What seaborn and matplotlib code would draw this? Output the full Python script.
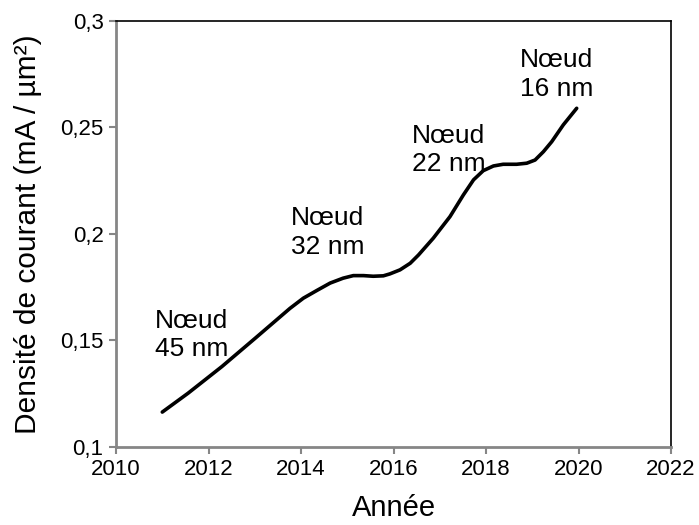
import numpy as np
import pandas as pd
import matplotlib
matplotlib.use("Agg")
import matplotlib.pyplot as plt
import seaborn as sns
from matplotlib.ticker import FuncFormatter

# points
annees = [2011.0, 2011.56, 2012.29, 2013.01, 2013.76, 2014.05, 2014.34, 2014.63,
          2014.91, 2015.13, 2015.35, 2015.56, 2015.78, 2015.92, 2016.14, 2016.36,
          2016.54, 2016.86, 2017.22, 2017.51, 2017.73, 2017.94, 2018.16, 2018.37,
          2018.66, 2018.88, 2019.06, 2019.24, 2019.42, 2019.67, 2019.96]
densite = [0.1163, 0.1252, 0.1377, 0.1510, 0.1650, 0.1698, 0.1734, 0.1769,
           0.1792, 0.1804, 0.1804, 0.1801, 0.1803, 0.1812, 0.1831, 0.1862,
           0.1901, 0.1980, 0.2081, 0.2183, 0.2254, 0.2297, 0.2319, 0.2327,
           0.2327, 0.2332, 0.2347, 0.2386, 0.2433, 0.2512, 0.2590]

noeuds = ["Nœud\n45 nm", "Nœud\n32 nm", "Nœud\n22 nm", "Nœud\n16 nm"]
noeud_x = [2010.84, 2013.78, 2016.39, 2018.74]
noeud_y = [0.1525, 0.2005, 0.2394, 0.2749]

df = pd.DataFrame({"Année": annees, "Densité": densite})

sns.set_style("white")
plt.rcParams['font.family'] = ['Liberation Sans', 'DejaVu Sans']
plt.rcParams['text.color'] = 'black'
plt.rcParams['axes.labelcolor'] = 'black'
plt.rcParams['xtick.color'] = 'black'
plt.rcParams['ytick.color'] = 'black'

fig = plt.figure(figsize=(6.99, 5.25), dpi=100)
ax = fig.add_axes([0.166, 0.149, 0.794, 0.811])

sns.lineplot(x="Année", y="Densité", data=df, color="black", linewidth=2.6,
             sort=False, ax=ax)
ax.lines[0].set_solid_joinstyle("round")
ax.lines[0].set_solid_capstyle("round")

for txt, x, y in zip(noeuds, noeud_x, noeud_y):
    ax.text(x, y, txt, ha="left", va="center", fontsize=19, linespacing=1.25)

ax.set_xlim(2010, 2022)
ax.set_ylim(0.1, 0.3)
ax.set_xticks(np.arange(2010, 2023, 2))
ax.set_yticks([0.1, 0.15, 0.2, 0.25, 0.3])
ax.yaxis.set_major_formatter(FuncFormatter(lambda v, p: ('%g' % round(v, 2)).replace('.', ',')))

ax.set_xlabel("Année", fontsize=21, labelpad=10)
ax.set_ylabel("Densité de courant (mA / µm²)", fontsize=21.5, labelpad=13)
ax.tick_params(axis="both", labelsize=16, direction="out", length=5, width=1.5,
               color="#868686", labelcolor="black", bottom=True, left=True, pad=4)

for side in ["left", "bottom"]:
    ax.spines[side].set_color("#868686")
    ax.spines[side].set_linewidth(2)
for side in ["top", "right"]:
    ax.spines[side].set_color("black")
    ax.spines[side].set_linewidth(1.2)

fig.savefig("out.png", dpi=100)
